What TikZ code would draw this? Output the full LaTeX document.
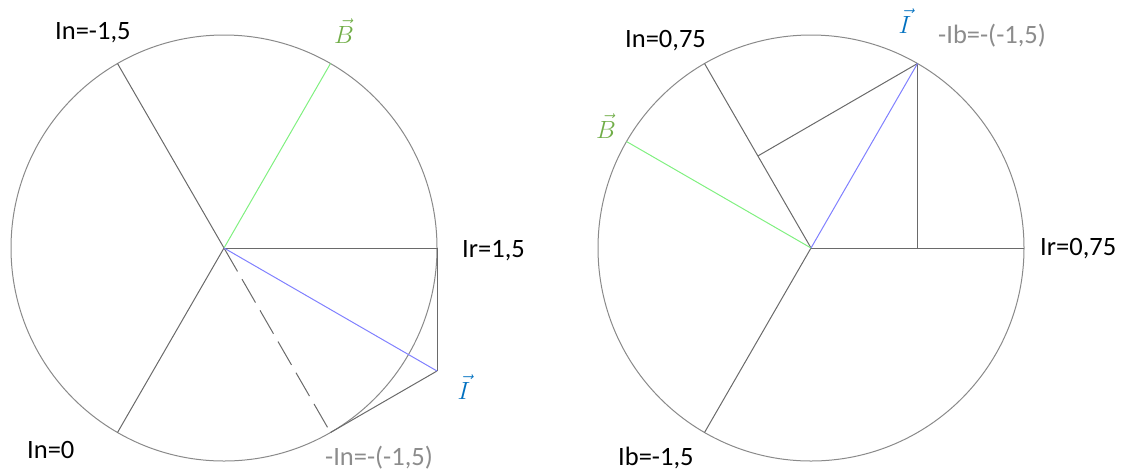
\documentclass[tikz,border=0pt]{standalone}
\usepackage{fontspec}
\setmainfont{Carlito}
\definecolor{circ}{HTML}{8A8A8A}
\definecolor{seg}{HTML}{6A6A6A}
\definecolor{lgreen}{HTML}{80F080}
\definecolor{lblue}{HTML}{8080FF}
\definecolor{tgreen}{HTML}{70AD47}
\definecolor{tblue}{HTML}{0070C0}
\definecolor{tgray}{HTML}{8C8C8C}
\tikzset{
  circbox/.style={draw=circ, line width=1pt},
  segline/.style={draw=seg, line width=1pt},
  bline/.style={draw=lgreen, line width=1pt},
  iline/.style={draw=lblue, line width=1pt},
  dashline/.style={draw=seg, line width=1pt, dash pattern=on 27pt off 9pt},
  lbl/.style={anchor=base west, inner sep=0pt, font=\fontsize{26.5}{30}\selectfont},
  glbl/.style={lbl, text=tgray},
  vlbl/.style={anchor=base, inner sep=0pt, font=\fontsize{28}{32}\selectfont},
}
\begin{document}
\begin{tikzpicture}[x=1pt,y=-1pt]
\useasboundingbox (0,0) rectangle (1123,475);
% ---------- left diagram ----------
\coordinate (L) at (224,248);
\draw[circbox] (L) circle (213);
\coordinate (Lr) at (437,248);
\coordinate (Ln) at (117.5,63.5);
\coordinate (Lb) at (117.5,432.5);
\coordinate (LB) at (330.5,63.5);
\coordinate (Lmn) at (330.5,432.5);
\coordinate (LI) at (437,371);
\draw[segline] (L) -- (Lr);
\draw[segline] (L) -- (Ln);
\draw[segline] (L) -- (Lb);
\draw[dashline] (L) -- (Lmn);
\draw[segline] (Lr) -- (LI);
\draw[segline] (LI) -- (Lmn);
\draw[bline] (L) -- (LB);
\draw[iline] (L) -- (LI);
\node[lbl] (tLn) at (55,39) {In=-1,5};
\node[vlbl, text=tgreen] (tLB) at (344,43) {$\vec{B}$};
\node[lbl] (tLr) at (462,257) {Ir=1,5};
\node[vlbl, text=tblue] (tLI) at (464,399) {$\vec{I}$};
\node[glbl] (tLmn) at (325,465) {-In=-(-1,5)};
\node[lbl] (tLb) at (27,458) {In=0};
% ---------- right diagram ----------
\coordinate (R) at (811,248);
\draw[circbox] (R) circle (213);
\coordinate (Rr) at (1024,248);
\coordinate (Rn) at (704.5,63.5);
\coordinate (Rnh) at (758.25,155.75);
\coordinate (Rb) at (704.5,432.5);
\coordinate (RB) at (626.5,141.5);
\coordinate (RI) at (917.5,63.5);
\coordinate (RIf) at (917.5,248);
\draw[segline] (R) -- (Rr);
\draw[segline] (R) -- (Rn);
\draw[segline] (R) -- (Rb);
\draw[segline] (Rnh) -- (RI);
\draw[segline] (RIf) -- (RI);
\draw[bline] (R) -- (RB);
\draw[iline] (R) -- (RI);
\node[lbl] (tRn) at (625,47) {In=0,75};
\node[vlbl, text=tgreen] (tRB) at (606,138) {$\vec{B}$};
\node[vlbl, text=tblue] (tRI) at (905,33) {$\vec{I}$};
\node[glbl] (tRmb) at (938,43) {-Ib=-(-1,5)};
\node[lbl] (tRr) at (1040,255) {Ir=0,75};
\node[lbl] (tRb) at (618,465) {Ib=-1,5};
\end{tikzpicture}
\end{document}
